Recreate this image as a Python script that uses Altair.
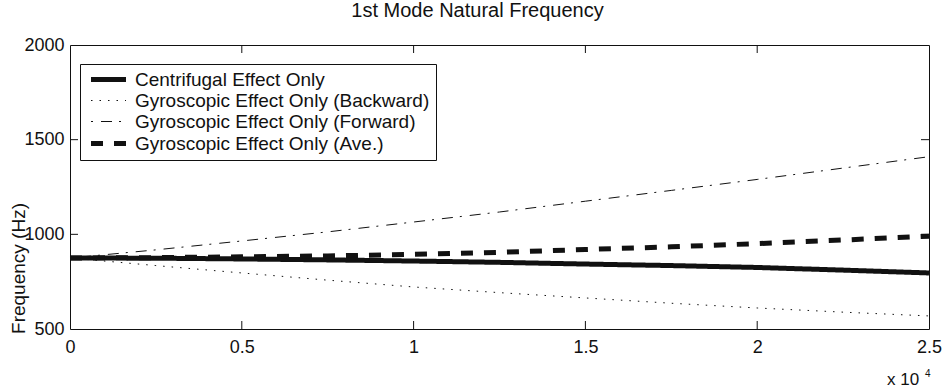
import altair as alt
import pandas as pd

# Rotor speed (rpm) and first-mode natural frequency (Hz) for each model
speed = [0, 2500, 5000, 7500, 10000, 12500, 15000, 17500, 20000, 22500, 25000]
centrifugal = [875, 874, 870, 865, 859, 852, 843, 835, 825, 811, 796]
backward = [875, 835, 796, 758, 722, 692, 664, 636, 611, 589, 569]
forward = [875, 918, 965, 1013, 1065, 1118, 1175, 1232, 1290, 1350, 1410]
average = [875, 877, 881, 886, 894, 905, 920, 934, 951, 970, 990]

series_names = [
    "Centrifugal Effect Only",
    "Gyroscopic Effect Only (Backward)",
    "Gyroscopic Effect Only (Forward)",
    "Gyroscopic Effect Only (Ave.)",
]
series_values = [centrifugal, backward, forward, average]
dash_styles = [[1, 0], [1.5, 7], [2, 8, 11, 7], [12, 11]]
thick_series = ["Centrifugal Effect Only", "Gyroscopic Effect Only (Ave.)"]

x_ticks = [0, 5000, 10000, 15000, 20000, 25000]
y_ticks = [500, 1000, 1500, 2000]
x_inner_ticks = [5000, 10000, 15000, 20000]
y_inner_ticks = [1000, 1500]

W, H = 859, 284
FONT = "Liberation Sans"
INK = "#111111"
THICK, THIN = 5, 1

rows = []
for name, vals in zip(series_names, series_values):
    for s, v in zip(speed, vals):
        rows.append({"speed": s, "freq": v, "series": name})
df = pd.DataFrame(rows)

thick_list = "[" + ",".join("'" + n + "'" for n in thick_series) + "]"
line_test = f"indexof({thick_list}, datum.series) >= 0"
legend_width = f"indexof({thick_list}, datum.value) >= 0 ? {THICK} : {THIN}"

x_scale = alt.Scale(domain=[0, 25000], nice=False, zero=False)
y_scale = alt.Scale(domain=[500, 2000], nice=False, zero=False)

lines = alt.Chart(df).mark_line(color=INK, strokeCap="butt").encode(
    x=alt.X("speed:Q", scale=x_scale,
            axis=alt.Axis(values=x_ticks, labelExpr="datum.value / 10000",
                          title=None, grid=False, ticks=False, domain=False,
                          labelFlush=False, labelOverlap=False, labelPadding=9,
                          labelFontSize=18, labelFont=FONT, labelColor=INK)),
    y=alt.Y("freq:Q", scale=y_scale,
            axis=alt.Axis(values=y_ticks, format="d", title="Frequency (Hz)",
                          grid=False, ticks=False, domain=False, labelFlush=False,
                          labelOverlap=False, labelPadding=6, labelFontSize=18,
                          labelFont=FONT, labelColor=INK, titleFont=FONT,
                          titleFontSize=19, titleFontWeight="normal",
                          titleColor=INK, titleX=-52, titleY=223,
                          titleAngle=-90, titleAlign="center",
                          titleBaseline="middle")),
    strokeDash=alt.StrokeDash(
        "series:N",
        scale=alt.Scale(domain=series_names, range=dash_styles),
        legend=alt.Legend(title=None,
                          symbolStrokeWidth=alt.ExprRef(expr=legend_width)),
    ),
    strokeWidth=alt.condition(line_test, alt.value(THICK), alt.value(THIN)),
    order=alt.Order("speed:Q"),
)

tick_len = 8
xt = pd.DataFrame({"speed": x_inner_ticks})
yt = pd.DataFrame({"freq": y_inner_ticks})
tick_style = dict(color=INK, strokeWidth=1)

x_bottom = alt.Chart(xt).mark_rule(**tick_style).encode(
    x=alt.X("speed:Q", scale=x_scale), y=alt.value(H), y2=alt.value(H - tick_len))
x_top = alt.Chart(xt).mark_rule(**tick_style).encode(
    x=alt.X("speed:Q", scale=x_scale), y=alt.value(0), y2=alt.value(tick_len))
y_left = alt.Chart(yt).mark_rule(**tick_style).encode(
    y=alt.Y("freq:Q", scale=y_scale), x=alt.value(0), x2=alt.value(tick_len))
y_right = alt.Chart(yt).mark_rule(**tick_style).encode(
    y=alt.Y("freq:Q", scale=y_scale), x=alt.value(W), x2=alt.value(W - tick_len))

# Axis multiplier "x 10^4" under the right end of the x axis
mult = alt.Chart(pd.DataFrame({"t": ["x 10"]})).mark_text(
    align="left", baseline="alphabetic", font=FONT, fontSize=17, color=INK
).encode(x=alt.value(W - 42), y=alt.value(H + 56), text="t:N")
expo = alt.Chart(pd.DataFrame({"t": ["4"]})).mark_text(
    align="left", baseline="alphabetic", font=FONT, fontSize=10, color=INK
).encode(x=alt.value(W - 4), y=alt.value(H + 48), text="t:N")

chart = alt.layer(lines, x_bottom, x_top, y_left, y_right, mult, expo).properties(
    width=W, height=H,
    title=alt.TitleParams("1st Mode Natural Frequency", font=FONT, fontSize=20,
                          fontWeight="normal", color=INK, offset=15,
                          anchor="middle", dx=-22),
    autosize=alt.AutoSizeParams(type="none"),
    padding={"left": 70, "top": 45, "right": 15, "bottom": 63},
).configure_view(
    stroke=INK, strokeWidth=1
).configure_legend(
    orient="none", legendX=10, legendY=19, padding=6, strokeColor=INK,
    fillColor="white", cornerRadius=0, symbolType="M-2,0H2", symbolSize=306,
    symbolStrokeColor=INK, symbolOffset=13, labelFont=FONT, labelFontSize=19,
    labelColor=INK, labelOffset=17, rowPadding=1, labelLimit=400,
)

chart.save("out.html", embed_options={"renderer": "svg", "actions": False})
